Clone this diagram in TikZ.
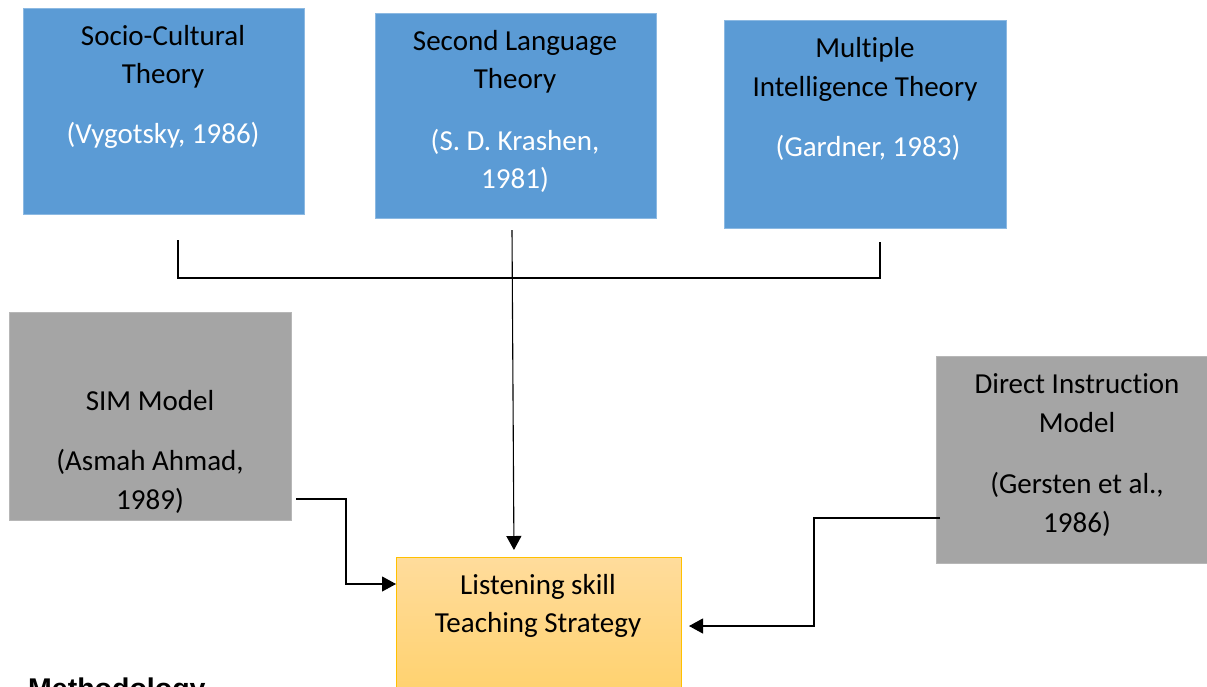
\documentclass[tikz,border=0pt]{standalone}
\usepackage{fontspec}
\setmainfont{Carlito}[Ligatures=CommonOff]
\newfontfamily\headfont{Liberation Sans}
\usetikzlibrary{arrows.meta}
\definecolor{boxblue}{HTML}{5B9BD5}
\definecolor{boxgray}{HTML}{A5A5A5}
\definecolor{ytop}{HTML}{FFDC9C}
\definecolor{ybot}{HTML}{FFD16C}
\definecolor{yborder}{HTML}{FFC000}
\tikzset{
  blue box/.style={fill=boxblue, draw=boxblue!70!white, line width=0.6pt},
  gray box/.style={fill=boxgray, draw=boxgray!80!white, line width=0.6pt},
  txt/.style={anchor=base, inner sep=0pt, font=\fontsize{29}{38}\selectfont},
  wtxt/.style={txt, text=white},
  conn/.style={draw=black, line width=1.1pt},
  arr/.style={conn, -{Triangle[length=14pt,width=15pt]}},
}
\begin{document}
\begin{tikzpicture}[x=1pt,y=-1pt]
\useasboundingbox (0,0) rectangle (1207,686);
\clip (0,0) rectangle (1207,686);
% boxes
\path[blue box] (23,8) rectangle (304,214);
\path[blue box] (375,13) rectangle (656,218);
\path[blue box] (724,20) rectangle (1006,228);
\path[gray box] (9,312) rectangle (291,520);
\path[gray box] (936,356) rectangle (1210,563);
\path[top color=ytop, bottom color=ybot, draw=yborder, line width=1pt] (396,557) rectangle (681,700);
\node[draw=none, inner sep=0pt, minimum width=285pt, minimum height=143pt, anchor=north west] (ls) at (396,557) {};
% texts
\node[txt] (t1a) at (163,45) {Socio-Cultural};
\node[txt] (t1b) at (163,83) {Theory};
\node[wtxt] (t1c) at (163,143) {(Vygotsky, 1986)};
\node[txt] (t2a) at (515,50) {Second Language};
\node[txt] (t2b) at (515,88) {Theory};
\node[wtxt] (t2c) at (515,150) {(S. D. Krashen,};
\node[wtxt] (t2d) at (515,188) {1981)};
\node[txt] (t3a) at (865,57) {Multiple};
\node[txt] (t3b) at (865,96) {Intelligence Theory};
\node[wtxt] (t3c) at (868,156) {(Gardner, 1983)};
\node[txt] (s1) at (150,410) {SIM Model};
\node[txt] (s2) at (150,470) {(Asmah Ahmad,};
\node[txt] (s3) at (150,509) {1989)};
\node[txt] (d1) at (1077,393) {Direct Instruction};
\node[txt] (d2) at (1077,432) {Model};
\node[txt] (d3) at (1077,493) {(Gersten et al.,};
\node[txt] (d4) at (1077,532) {1986)};
\node[txt] (l1) at (538,594) {Listening skill};
\node[txt] (l2) at (538,632) {Teaching Strategy};
\node[anchor=base west, inner sep=0pt, font=\headfont\bfseries\fontsize{28.5}{34}\selectfont] (meth) at (28,698) {Methodology};
% connectors
\coordinate (bl) at (178,240);
\coordinate (blc) at (178,278);
\coordinate (br) at (880,242);
\coordinate (brc) at (880,278);
\coordinate (ctop) at (512,230);
\coordinate (cbot) at (514,557);
\draw[conn] (bl) -- (blc) -- (brc) -- (br);
\draw[arr, shorten >=7pt] (ctop) -- (cbot);
\coordinate (sims) at (296,499);
\coordinate (simtarget) at (396,584);
\draw[arr] (sims) -- (346,499) -- (346,584) -- (simtarget);
\coordinate (dis) at (940,518);
\coordinate (ditarget) at (681,626);
\draw[arr, shorten >=8pt] (dis) -- (814,518) -- (814,626) -- (ditarget);
\end{tikzpicture}
\end{document}
